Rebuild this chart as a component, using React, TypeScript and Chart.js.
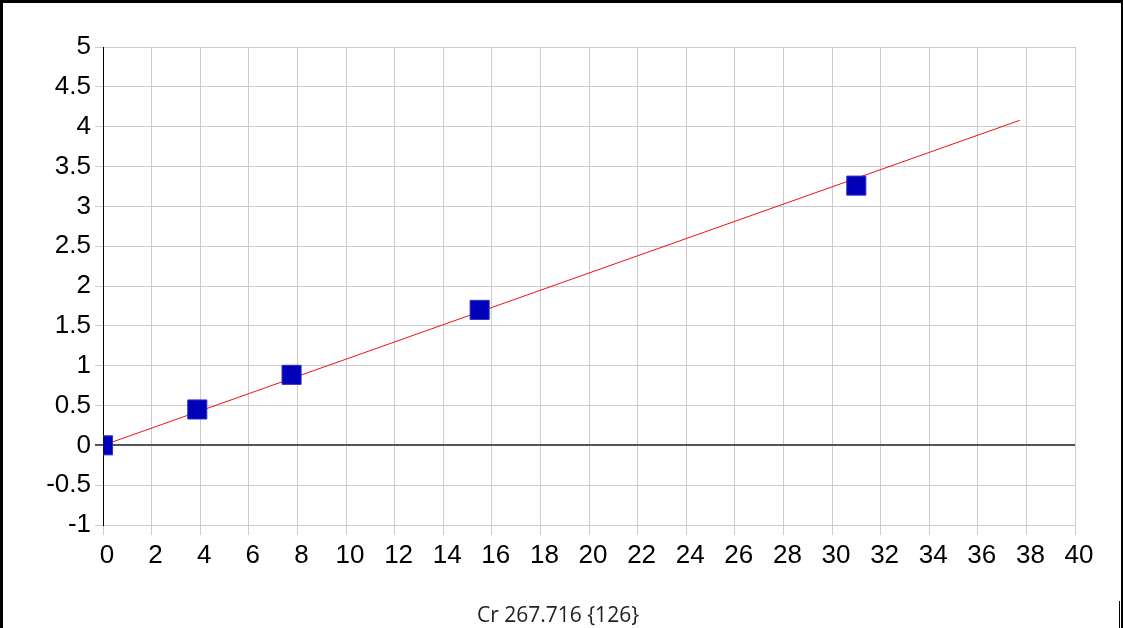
import React, { useEffect, useRef } from 'react';
import { Chart, registerables } from 'chart.js';

Chart.register(...registerables);

// Measured samples (concentration vs. signal)
const sampleX = [0, 3.88, 7.76, 15.5, 31.0];
const sampleY = [0, 0.45, 0.885, 1.7, 3.26];

// Calibration (fit) line endpoints
const fitX = [0, 37.73];
const fitY = [0, 4.08];

// Axis ranges / ticks
const xRange = [0, 40];
const xStep = 2;
const yRange = [-1, 5];
const yStep = 0.5;

const titleText = 'Cr 267.716 {126}';

export default function App() {
  const canvasRef = useRef<HTMLCanvasElement | null>(null);

  useEffect(() => {
    if (!canvasRef.current) return;
    const chart = new Chart(canvasRef.current, {
      type: 'scatter',
      data: {
        datasets: [
          {
            label: 'Samples',
            data: sampleX.map((x, i) => ({ x, y: sampleY[i] })),
            pointStyle: 'rect',
            pointRadius: 13.5,
            pointHoverRadius: 13.5,
            backgroundColor: '#0000b8',
            borderColor: '#3030c8',
            borderWidth: 1,
            showLine: false,
            clip: 0,
          } as any,
          {
            label: 'Fit',
            type: 'line',
            data: fitX.map((x, i) => ({ x, y: fitY[i] })),
            borderColor: '#ee1111',
            borderWidth: 1,
            pointRadius: 0,
            fill: false,
          } as any,
        ],
      },
      options: {
        animation: false,
        responsive: false,
        maintainAspectRatio: false,
        layout: { padding: { top: 44, right: 46, left: 0, bottom: 0 } },
        plugins: {
          legend: { display: false },
          tooltip: { enabled: false },
          title: { display: false },
        },
        scales: {
          x: {
            type: 'linear',
            min: xRange[0],
            max: xRange[1],
            afterFit: (scale: any) => {
              scale.height = 103;
            },
            ticks: {
              stepSize: xStep,
              color: '#000',
              padding: 5,
              labelOffset: 4,
              maxRotation: 0,
              autoSkip: false,
              callback: (v: any) => String(v),
              font: { family: 'Liberation Sans', size: 26 },
            },
            grid: {
              color: '#cccccc',
              lineWidth: 1,
              tickLength: 10,
            },
            border: { color: '#cccccc', width: 1 },
          },
          y: {
            type: 'linear',
            min: yRange[0],
            max: yRange[1],
            afterFit: (scale: any) => {
              scale.width = 100;
            },
            ticks: {
              stepSize: yStep,
              color: '#000',
              padding: 4,
              autoSkip: false,
              callback: (v: any) => String(Math.round(Number(v) * 100) / 100),
              font: { family: 'Liberation Sans', size: 26 },
            },
            grid: {
              color: (ctx: any) => (ctx.tick && ctx.tick.value === 0 ? '#555555' : '#cccccc'),
              lineWidth: (ctx: any) => (ctx.tick && ctx.tick.value === 0 ? 2 : 1),
              tickLength: 8,
            },
            border: { color: '#000000', width: 1 },
          },
        },
      },
    });
    return () => chart.destroy();
  }, []);

  return (
    <div
      style={{
        position: 'fixed',
        left: 0,
        top: 0,
        width: 1123,
        height: 628,
        background: '#fff',
        boxSizing: 'border-box',
        borderTop: '3px solid #000',
        borderLeft: '3px solid #000',
        borderRight: '2px solid #000',
        overflow: 'hidden',
      }}
    >
      <canvas
        ref={canvasRef}
        width={1118}
        height={625}
        style={{ position: 'absolute', left: 0, top: 0, width: 1118, height: 625 }}
      />
      <div
        style={{
          position: 'absolute',
          left: 0,
          width: 1110,
          top: 599,
          textAlign: 'center',
          fontFamily: '"Open Sans", sans-serif',
          fontSize: 21,
          lineHeight: '25px',
          color: '#222',
          whiteSpace: 'nowrap',
        }}
      >
        {titleText}
      </div>
      <div
        style={{
          position: 'absolute',
          left: 1116,
          top: 598,
          width: 1,
          height: 27,
          background: '#000',
        }}
      />
    </div>
  );
}
